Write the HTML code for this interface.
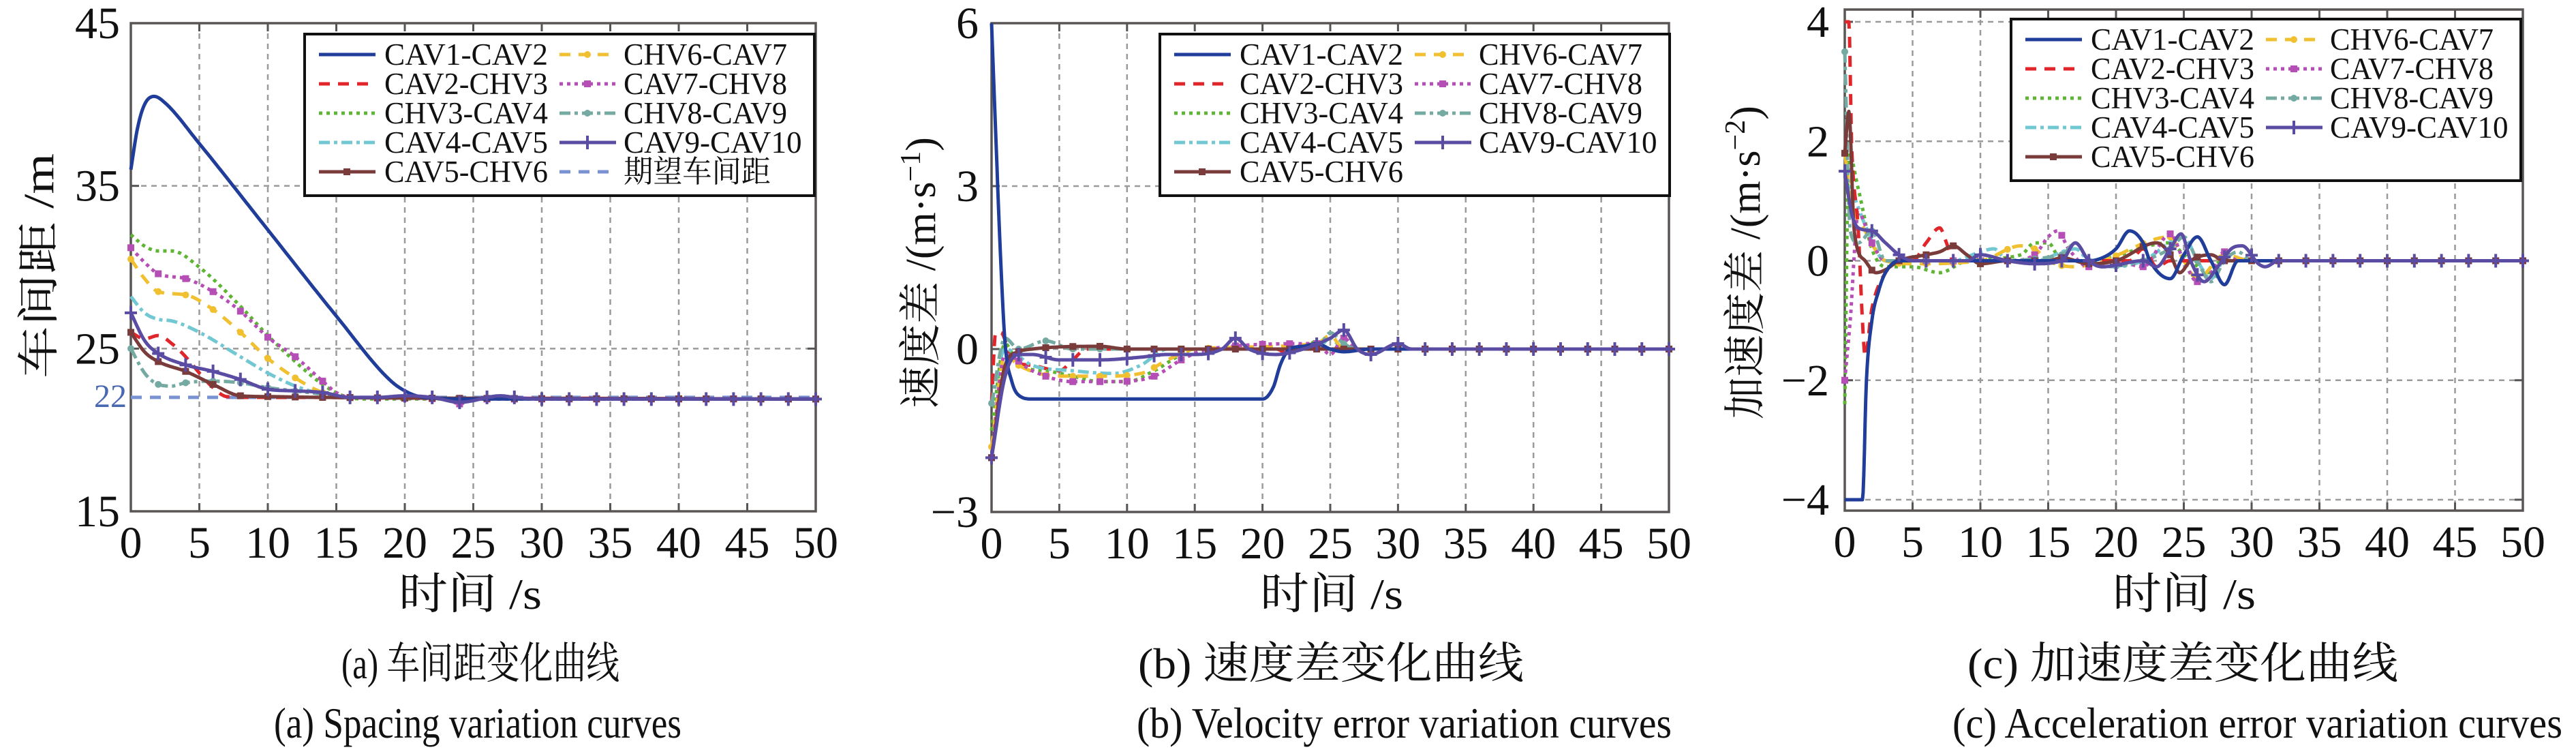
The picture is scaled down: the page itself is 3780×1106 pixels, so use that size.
<!DOCTYPE html>
<html><head><meta charset="utf-8"><style>
html,body{margin:0;padding:0;background:#fff;}
svg{display:block;}
#s text{font-family:"Liberation Serif","Times New Roman","Tinos","DejaVu Serif","Noto Serif CJK SC","Noto Sans CJK SC",serif;}
</style></head><body>
<svg id="s" xmlns="http://www.w3.org/2000/svg" width="3780" height="1106" viewBox="0 0 3780 1106" fill="#111"></svg>
<script>
const S=document.getElementById('s');
let out='';
const W={C:.667,A:.722,V:.722,H:.722,'-':.333};
function tw(s,fs){let w=0;for(const ch of s){w+=W[ch]!==undefined?W[ch]:(/[0-9]/.test(ch)?.5:(ch.charCodeAt(0)>255?1:.5));}return w*fs;}
function mapper(P){return {X:t=>P.x0+t*(P.x1-P.x0)/50, Y:v=>P.yA+(v-P.vA)*(P.yB-P.yA)/(P.vB-P.vA)};}
function mono(pts){const n=pts.length;const xs=pts.map(p=>p[0]),ys=pts.map(p=>p[1]);const d=[],m=new Array(n);
for(let i=0;i<n-1;i++)d.push((ys[i+1]-ys[i])/(xs[i+1]-xs[i]));
m[0]=d[0];m[n-1]=d[n-2];for(let i=1;i<n-1;i++){m[i]=(d[i-1]*d[i]<=0)?0:(d[i-1]+d[i])/2;}
for(let i=0;i<n-1;i++){if(d[i]===0){m[i]=0;m[i+1]=0;continue;}const a=m[i]/d[i],b=m[i+1]/d[i];const s=a*a+b*b;if(s>9){const t=3/Math.sqrt(s);m[i]=t*a*d[i];m[i+1]=t*b*d[i];}}
return t=>{let i=0;while(i<n-2&&t>xs[i+1])i++;const h=xs[i+1]-xs[i];const u=(t-xs[i])/h;const h00=2*u*u*u-3*u*u+1,h10=u*u*u-2*u*u+u,h01=-2*u*u*u+3*u*u,h11=u*u*u-u*u;return h00*ys[i]+h10*h*m[i]+h01*ys[i+1]+h11*h*m[i+1];};}
function path(P,pts){const m=mapper(P);const f=mono(pts);let d='';const t1=pts[pts.length-1][0];
for(let t=pts[0][0];t<=t1+1e-9;t+=0.05){d+=(d?'L':'M')+m.X(t).toFixed(1)+','+m.Y(f(t)).toFixed(1);}return [d,f];}
const ST={
b:{c:'#1f3d99',d:''},r:{c:'#e0262a',d:'16 12'},g:{c:'#5db533',d:'5 6'},cy:{c:'#72c8d2',d:'16 6 5 6'},
br:{c:'#7a3b3b',d:'',m:'sq'},y:{c:'#f0c030',d:'16 12',m:'ci'},mg:{c:'#b54fb5',d:'5 6',m:'sq'},
t:{c:'#74aaa2',d:'16 6 5 6',m:'ci'},p:{c:'#5a4ca3',d:'',m:'pl'},de:{c:'#7a92d2',d:'16 12'}};
function marker(type,x,y,c){if(type==='sq')return `<rect x="${x-5}" y="${y-5}" width="10" height="10" fill="${c}"/>`;
if(type==='ci')return `<circle cx="${x}" cy="${y}" r="5" fill="${c}"/>`;
return `<path d="M${x-9},${y}H${x+9}M${x},${y-10}V${y+10}" stroke="${c}" stroke-width="4"/>`;}
function series(P,k,pts){const s=ST[k];const [d,f]=path(P,pts);out+=`<path d="${d}" fill="none" stroke="${s.c}" stroke-width="5" ${s.d?`stroke-dasharray="${s.d}"`:''} stroke-linejoin="round"/>`;
if(s.m){const m=mapper(P);for(let t=0;t<=50;t+=2){out+=marker(s.m,m.X(t),m.Y(f(t)),s.c);}}}
function T(x,y,fs,s,anchor,extra){return `<text x="${x}" y="${y}" font-size="${fs}" text-anchor="${anchor||'start'}" textLength="${tw(s.replace('−','-'),fs).toFixed(1)}" lengthAdjust="spacingAndGlyphs" ${extra||''}>${s}</text>`;}
function axes(P,yt,yticksLabels,labRight){
const {x0,x1,yT,yBt}=P;const m=mapper(P);
for(let t=5;t<50;t+=5){const x=m.X(t);out+=`<line x1="${x}" y1="${yT}" x2="${x}" y2="${yBt}" stroke="#9a9a9a" stroke-width="2.5" stroke-dasharray="8 7"/>`;
out+=`<line x1="${x}" y1="${yT}" x2="${x}" y2="${yT+12}" stroke="#555" stroke-width="3"/><line x1="${x}" y1="${yBt}" x2="${x}" y2="${yBt-12}" stroke="#555" stroke-width="3"/>`;}
yt.forEach(v=>{const y=m.Y(v);out+=`<line x1="${x0}" y1="${y}" x2="${x1}" y2="${y}" stroke="#9a9a9a" stroke-width="2.5" stroke-dasharray="8 7"/><line x1="${x1}" y1="${y}" x2="${x1-12}" y2="${y}" stroke="#555" stroke-width="3"/><line x1="${x0}" y1="${y}" x2="${x0+12}" y2="${y}" stroke="#555" stroke-width="3"/>`;});
out+=`<rect x="${x0}" y="${yT}" width="${x1-x0}" height="${yBt-yT}" fill="none" stroke="#5a5555" stroke-width="3.5"/>`;
for(let t=0;t<=50;t+=5){out+=T(m.X(t),yBt+68,66,String(t),'middle');}
yticksLabels.forEach(([v,l])=>{out+=`<text x="${labRight}" y="${m.Y(v)+22}" font-size="66" text-anchor="end">${l}</text>`;});}
function legend(L,Tp,items){out+=`<rect x="${L}" y="${Tp}" width="748" height="237" fill="#fff" stroke="#111" stroke-width="4"/>`;
items.forEach((it,i)=>{if(!it)return;const col=i<5?0:1,row=i%5;const cy=Tp+30+row*43;const lx=L+(col?374:21),tx=L+(col?468:117);const s=ST[it[0]];
out+=`<line x1="${lx}" y1="${cy}" x2="${lx+83}" y2="${cy}" stroke="${s.c}" stroke-width="5" ${s.d?`stroke-dasharray="${s.d}"`:''}/>`;
if(s.m)out+=marker(s.m,lx+41,cy,s.c);
out+=`<text x="${tx}" y="${cy+15}" font-size="45" textLength="${(tw(it[1],45)*0.96).toFixed(1)}" lengthAdjust="spacingAndGlyphs">${it[1]}</text>`;});}
const names=[['b','CAV1-CAV2'],['r','CAV2-CHV3'],['g','CHV3-CAV4'],['cy','CAV4-CAV5'],['br','CAV5-CHV6'],['y','CHV6-CAV7'],['mg','CAV7-CHV8'],['t','CHV8-CAV9'],['p','CAV9-CAV10']];

// ===== Panel A =====
const A={x0:192,x1:1197,yT:34,yBt:750,vA:45,yA:34,vB:15,yB:750};
axes(A,[25,35],[[45,'45'],[35,'35'],[25,'25'],[15,'15']],176);
const mA=mapper(A);
out+=`<line x1="${A.x0}" y1="${mA.Y(22)}" x2="${A.x1}" y2="${mA.Y(22)}" stroke="${ST.de.c}" stroke-width="5" stroke-dasharray="16 12"/>`;
out+=`<text x="186" y="${mA.Y(22)+14}" font-size="48" text-anchor="end" fill="#4a68b0">22</text>`;
series(A,'r',[[0,26],[1,25.6],[2,25.8],[3,25.3],[4,24.5],[5,23.5],[6,22.6],[7,22.05],[9,22],[22,21.95],[24,21.8],[26,21.95],[50,21.9]]);
series(A,'g',[[0,32],[1,31.3],[2,31],[3,31],[5,30],[8,27.6],[10,25.8],[12,24.2],[14,22.8],[15.5,22.1],[17,21.9],[50,21.9]]);
series(A,'cy',[[0,28.2],[1,27.2],[2,26.8],[3,26.7],[5,26],[8,24.5],[10,23.5],[12,22.7],[14,22.2],[16,22],[50,21.9]]);
series(A,'y',[[0,30.5],[1,29.3],[2,28.5],[4,28.3],[6,27.4],[8,26],[10,24.4],[12,23.2],[14,22.3],[16,22],[50,21.9]]);
series(A,'mg',[[0,31.2],[1,30.3],[2,29.6],[4,29.3],[6,28.5],[8,27.3],[10,25.7],[12,24.5],[14,23],[15,22.3],[16,22],[23,21.9],[24,21.6],[25,21.9],[50,21.9]]);
series(A,'t',[[0,25],[1,23.5],[2,22.8],[3,22.7],[4,22.9],[6,23],[8,22.9],[10,22.6],[12,22.4],[14,22.2],[16,22],[50,21.9]]);
series(A,'br',[[0,26],[1,24.8],[2,24.2],[4,23.6],[6,22.8],[8,22.1],[10,22.05],[14,22],[50,21.9]]);
series(A,'b',[[0,36],[0.5,38.6],[1,40],[1.7,40.5],[2.5,40.1],[5,37.6],[10,32.3],[15,27],[19,23],[20.5,22.2],[21.5,22],[25,21.9],[50,21.9]]);
series(A,'p',[[0,27.2],[1,25.5],[2,24.7],[4,24],[6,23.6],[8,23.1],[10,22.5],[12,22.4],[14,22.3],[16,22],[18,22],[20,22.1],[22,22],[24,21.7],[25,21.8],[26,22],[27,22.1],[28,22],[30,21.9],[50,21.9]]);
legend(447,50,[...names.slice(0,5),...names.slice(5),['de','期望车间距']]);

// ===== Panel B =====
const B={x0:1455,x1:2449,yT:34,yBt:751,vA:6,yA:34,vB:-3,yB:751};
axes(B,[0,3],[[6,'6'],[3,'3'],[0,'0'],[-3,'−3']],1436);
series(B,'r',[[0,-1],[0.3,0.3],[0.7,0.3],[1.5,-0.2],[3,-0.3],[5,-0.4],[6,-0.2],[7,0],[8,0],[21,0],[22,-0.1],[23,0.1],[24,0],[50,0]]);
series(B,'g',[[0,-1.5],[1,0.1],[2,-0.3],[4,-0.4],[6,-0.5],[8,-0.6],[10,-0.6],[12,-0.4],[14,-0.1],[15,0],[23,0],[24,0.15],[25,0],[50,0]]);
series(B,'cy',[[0,-1],[1,0],[3,-0.3],[6,-0.4],[9,-0.45],[11,-0.3],[13,0],[24,0],[25,0.2],[26,0],[50,0]]);
series(B,'y',[[0,-1.8],[1,-0.1],[2,-0.3],[5,-0.5],[8,-0.5],[11,-0.45],[13,-0.2],[15,0],[24,0.1],[25,0.25],[26,0],[50,0]]);
series(B,'mg',[[0,-2],[1,-0.1],[3,-0.4],[6,-0.6],[9,-0.6],[12,-0.5],[14,-0.2],[16,0],[24,0.1],[25,-0.1],[26,0.2],[27,0],[50,0]]);
series(B,'t',[[0,-1],[1,0.2],[2,0],[4,0.15],[6,0],[10,0],[24,0],[25,0.3],[26,0.1],[27,0],[50,0]]);
series(B,'br',[[0,-2],[1,-0.3],[2,-0.05],[3,0],[8,0.05],[10,0],[50,0]]);
series(B,'b',[[0,6],[0.3,4],[0.7,1.5],[1,0.1],[1.5,-0.6],[2,-0.85],[3,-0.92],[20,-0.92],[20.8,-0.7],[21.3,-0.3],[22,0],[23,0.05],[24,0.1],[25,0],[26,-0.05],[28,0],[50,0]]);
series(B,'p',[[0,-2],[1,-0.5],[2,-0.1],[3,-0.1],[5,-0.2],[8,-0.2],[11,-0.15],[13,-0.1],[15,-0.1],[17,0],[18,0.2],[19,0],[21,-0.1],[23,0],[25,0.2],[26,0.35],[27,0],[28,-0.1],[30,0.1],[31,0],[50,0]]);
legend(1702,50,names);

// ===== Panel C =====
const C={x0:2707,x1:3702,yT:14,yBt:749,vA:4,yA:32,vB:-4,yB:733};
axes(C,[2,0,-2,-4,4],[[4,'4'],[2,'2'],[0,'0'],[-2,'−2'],[-4,'−4']],2684);
series(C,'g',[[0,-2.4],[0.3,1.8],[1,1.2],[2,0.2],[3,-0.1],[5,-0.1],[7,-0.2],[9,0],[13,0.1],[14,0.3],[15,0.3],[16,0],[18,0],[24,0.3],[25,0.1],[27,-0.2],[28,0.1],[30,0],[50,0]]);
series(C,'cy',[[0,1.5],[0.5,1.2],[1.5,0.6],[3,0],[8,0],[10,0.15],[11,0.2],[12,0],[14,0],[17,0.2],[18,0],[20,-0.1],[22,0],[25,0.4],[26,0],[27,-0.3],[28,0],[30,0],[50,0]]);
series(C,'y',[[0,1.8],[0.5,1],[1.5,0.5],[3,0],[5,-0.05],[10,0],[13,0.25],[14,0.2],[15,0],[17,-0.1],[19,0],[24,0.4],[25,0],[26,-0.3],[28,0.1],[30,0],[50,0]]);
series(C,'mg',[[0,-2],[0.4,-1],[1,0.8],[2,0.3],[3,0],[8,0],[12,0],[14,0.1],[15,0.4],[15.7,0.5],[16.5,0.2],[18,-0.1],[20,0],[22,-0.1],[24,0.45],[25,0],[26,-0.35],[27,-0.2],[28,0.15],[29,0],[50,0]]);
series(C,'t',[[0,3.5],[0.4,0.5],[1,0.3],[2,0.5],[3,0],[10,0],[16,0.1],[17,0.3],[18,0],[19,-0.1],[24,0.2],[25,0.4],[26,0],[27,-0.35],[28,0],[29,0.15],[30,0],[50,0]]);
series(C,'r',[[0,4],[0.3,4],[0.5,2],[1,0.5],[1.3,-1],[1.5,-1.6],[2,-0.8],[3,-0.2],[4,0],[5,0],[6,0.3],[7,0.55],[7.5,0.3],[8,0],[10,0],[21,0],[22,0.2],[23,-0.1],[24,0],[50,0]]);
series(C,'br',[[0,1.8],[0.3,2.5],[0.7,0.5],[1.5,0],[2.3,-0.2],[3,-0.15],[4,0],[6,0.1],[7,0.15],[8,0.25],[9,0.1],[10,-0.05],[12,0],[15,0],[16,0.05],[18,-0.05],[20,0],[23,0.3],[24,0.1],[24.7,-0.2],[25.5,0],[27,0.1],[28,0],[50,0]]);
series(C,'b',[[0,-4],[1.3,-4],[1.6,-2],[2,-1],[2.5,-0.5],[3,-0.2],[4,0],[18,0],[19,0.05],[20,0.2],[21,0.5],[22,0.3],[22.5,0],[24,-0.3],[25,0.1],[26,0.4],[27,0],[28,-0.4],[29,0],[30,0],[50,0]]);
series(C,'p',[[0,1.5],[0.5,0.8],[1,0.55],[2,0.5],[3,0.3],[4,0.1],[5,0],[9,0],[10,0.1],[12,0],[14,-0.05],[16,0],[17,0.3],[18,0],[19,-0.1],[22,0],[23,-0.1],[24,0.2],[24.8,0.45],[25.5,0],[26.5,-0.35],[27.5,-0.1],[28.5,0.2],[29.3,0.25],[30.5,-0.05],[31,-0.1],[32,0],[50,0]]);
legend(2951,28,names);

// ===== Labels =====
function xl(cx,len){out+=`<text x="${cx}" y="893" font-size="64" text-anchor="middle" textLength="${len}" lengthAdjust="spacingAndGlyphs">时间 /s</text>`;}
xl(690,210);xl(1954,210);xl(3205,210);
out+=`<text transform="translate(78,390) rotate(-90)" font-size="62" text-anchor="middle" textLength="330" lengthAdjust="spacingAndGlyphs">车间距 /m</text>`;
out+=`<text transform="translate(1372,400) rotate(-90)" font-size="62" text-anchor="middle">速度差 /(m·s<tspan dy="-22" font-size="42">−1</tspan><tspan dy="22">)</tspan></text>`;
out+=`<text transform="translate(2582,385) rotate(-90)" font-size="62" text-anchor="middle">加速度差 /(m·s<tspan dy="-22" font-size="42">−2</tspan><tspan dy="22">)</tspan></text>`;
function cap(x1,x2,y,t){out+=`<text x="${x1}" y="${y}" font-size="64" textLength="${x2-x1}" lengthAdjust="spacingAndGlyphs">${t}</text>`;}
cap(501,909,995,'(a) 车间距变化曲线');cap(1670,2236,995,'(b) 速度差变化曲线');cap(2887,3519,995,'(c) 加速度差变化曲线');
cap(402,1000,1082,'(a) Spacing variation curves');cap(1668,2453,1082,'(b) Velocity error variation curves');cap(2865,3760,1082,'(c) Acceleration error variation curves');
S.innerHTML=out;
</script>
</body></html>
